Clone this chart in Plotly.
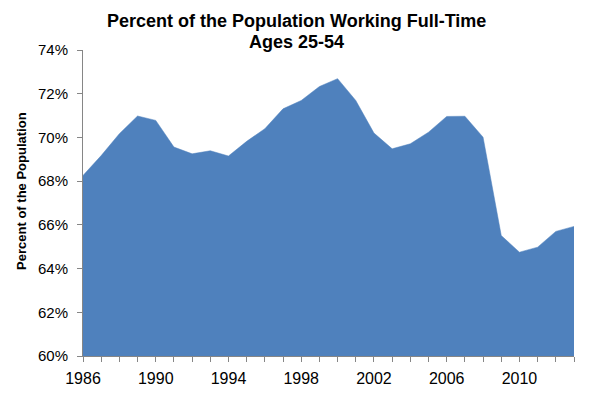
import plotly.graph_objects as go

years = list(range(1986, 2014))
pct_full_time = [68.26, 69.17, 70.17, 70.98, 70.78, 69.56, 69.25, 69.39, 69.15, 69.82,
                 70.40, 71.31, 71.69, 72.33, 72.69, 71.69, 70.20, 69.48, 69.71, 70.24,
                 70.96, 70.97, 70.01, 65.51, 64.75, 64.98, 65.70, 65.93]
x_tick_vals = [1986, 1990, 1994, 1998, 2002, 2006, 2010]
x_tick_text = ["1986", "1990", "1994", "1998", "2002", "2006", "2010"]
y_tick_vals = [60, 62, 64, 66, 68, 70, 72, 74]
y_tick_text = ["60%", "62%", "64%", "66%", "68%", "70%", "72%", "74%"]
title_lines = ["Percent of the Population Working Full-Time", "Ages 25-54"]
y_title = "Percent of the Population"

fill_color = "#4F81BD"
axis_color = "#868686"
font_family = "Liberation Sans, Arial, sans-serif"

fig = go.Figure()
fig.add_trace(go.Scatter(
    x=years, y=pct_full_time, mode="lines", fill="tozeroy",
    line=dict(color=fill_color, width=0.5), fillcolor=fill_color,
    hoverinfo="x+y", showlegend=False,
))

plot_h = 306
annotations = [
    dict(text="<b>" + title_lines[0] + "</b>", xref="paper", yref="paper",
         x=0.434, y=1 + (42 - 13) / plot_h, xanchor="center", yanchor="middle",
         showarrow=False, font=dict(size=18, family=font_family, color="#000000")),
    dict(text="<b>" + title_lines[1] + "</b>", xref="paper", yref="paper",
         x=0.434, y=1 + (42 - 34) / plot_h, xanchor="center", yanchor="middle",
         showarrow=False, font=dict(size=18, family=font_family, color="#000000")),
    dict(text="<b>" + y_title + "</b>", textangle=-90,
         xref="paper", yref="paper", x=-0.124, y=0.54,
         xanchor="center", yanchor="middle", showarrow=False,
         font=dict(size=13, family=font_family, color="#000000")),
]

fig.update_layout(
    width=592, height=400,
    margin=dict(l=75, r=26, t=42, b=52),
    paper_bgcolor="white", plot_bgcolor="white",
    font=dict(family=font_family, color="#000000"),
    xaxis=dict(
        range=[1986, 2013], tickmode="array", tickvals=x_tick_vals, ticktext=x_tick_text,
        showgrid=False, zeroline=False, showline=True, linecolor=axis_color, linewidth=1,
        ticks="outside", ticklen=5, tickcolor=axis_color, ticklabelstandoff=3,
        minor=dict(dtick=1, tick0=1986, ticks="outside", ticklen=5, tickcolor=axis_color, showgrid=False),
        tickfont=dict(size=16, family=font_family, color="#000000"),
    ),
    yaxis=dict(
        range=[60, 74], tickmode="array", tickvals=y_tick_vals, ticktext=y_tick_text,
        showgrid=False, zeroline=False, showline=True, linecolor=axis_color, linewidth=1,
        ticks="outside", ticklen=5, tickcolor=axis_color, ticklabelstandoff=6,
        tickfont=dict(size=15, family=font_family, color="#000000"),
    ),
    annotations=annotations,
)

fig.write_html("out.html")
